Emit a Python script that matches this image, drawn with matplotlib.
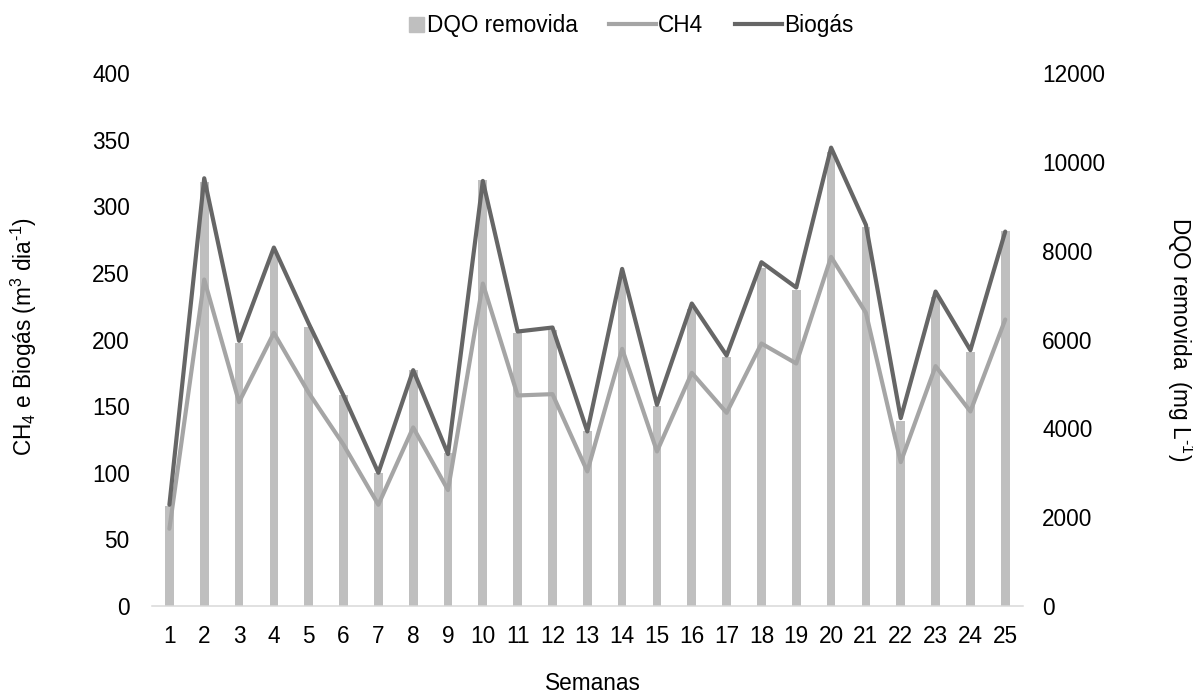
import matplotlib
matplotlib.use("Agg")
import matplotlib.pyplot as plt
import matplotlib.patches as mpatches
from matplotlib.lines import Line2D
from matplotlib.legend_handler import HandlerPatch

plt.rcParams['font.family'] = ['Liberation Sans', 'DejaVu Sans']
plt.rcParams['mathtext.fontset'] = 'custom'
plt.rcParams['mathtext.rm'] = 'Liberation Sans'
plt.rcParams['mathtext.it'] = 'Liberation Sans:italic'

# Weekly data
semanas = list(range(1, 26))
dqo_removida = [2250, 9550, 5930, 7940, 6280, 4750, 2990, 5310, 3440, 9590,
                6140, 6220, 3930, 7400, 4500, 6690, 5600, 7610, 7120, 10230,
                8530, 4170, 6950, 5730, 8450]
ch4 = [58, 245, 153, 205, 160, 121, 76, 134, 87, 242,
       158, 159, 101, 193, 116, 175, 145, 197, 182, 262,
       220, 108, 180, 146, 215]
biogas = [76, 321, 199, 269, 212, 158, 100, 177, 114, 319,
          206, 209, 131, 253, 151, 227, 188, 258, 239, 344,
          286, 141, 236, 192, 281]

left_ticks = [0, 50, 100, 150, 200, 250, 300, 350, 400]
right_ticks = [0, 2000, 4000, 6000, 8000, 10000, 12000]

C_BAR = '#bfbfbf'
C_CH4 = '#a5a5a5'
C_BIO = '#666666'
FS = 16.3

fig = plt.figure(figsize=(11.93, 6.96), dpi=100)
ax = fig.add_axes([0.1274, 0.1293, 0.7298, 0.7658])
ax2 = ax.twinx()

# Bars (right axis) behind the lines (left axis)
ax.set_zorder(ax2.get_zorder() + 1)
ax.patch.set_visible(False)

ax2.bar(semanas, dqo_removida, width=0.25, color=C_BAR, zorder=1)
ax.plot(semanas, ch4, color=C_CH4, lw=3.0, solid_joinstyle='round',
        solid_capstyle='round')
ax.plot(semanas, biogas, color=C_BIO, lw=3.0, solid_joinstyle='round',
        solid_capstyle='round')

ax.set_xlim(0.5, 25.5)
ax.set_ylim(0, 400)
ax2.set_ylim(0, 12000)
ax.set_xticks(semanas)
ax.set_xticklabels([str(s) for s in semanas])
ax.set_yticks(left_ticks)
ax2.set_yticks(right_ticks)

for a in (ax, ax2):
    for side in ('top', 'left', 'right', 'bottom'):
        a.spines[side].set_visible(False)
ax.spines['bottom'].set_visible(True)
ax.spines['bottom'].set_color('#d9d9d9')
ax.spines['bottom'].set_linewidth(1.1)

ax.tick_params(axis='y', length=0, pad=16, labelsize=FS)
ax.tick_params(axis='x', length=0, pad=14, labelsize=FS)
ax2.tick_params(axis='y', length=0, pad=14, labelsize=FS)

ax.set_xlabel('Semanas', fontsize=FS, va='center')
ax.xaxis.set_label_coords(0.5064, -0.1445)
ax.set_ylabel(r'CH$_4$ e Biogás (m$^3$ dia$^{\text{-1}}$)', fontsize=FS,
              va='center')
ax.yaxis.set_label_coords(-0.147, 0.505)
ax2.set_ylabel(r'DQO removida  (mg L$^{\text{-1}}$)', fontsize=FS,
               rotation=-90, va='center', ha='center')
ax2.yaxis.set_label_coords(1.181, 0.5)


def square_patch(legend, orig_handle, xdescent, ydescent, width, height, fontsize):
    s = height * 0.95
    return mpatches.Rectangle((width - xdescent - s, -ydescent + (height - s) / 2),
                              s, s)


handles = [mpatches.Patch(color=C_BAR, label='DQO removida'),
           Line2D([], [], color=C_CH4, lw=3.0, label='CH4'),
           Line2D([], [], color=C_BIO, lw=3.0, label='Biogás')]
fig.legend(handles=handles, loc='center', bbox_to_anchor=(0.516, 0.963),
           ncol=3, frameon=False, fontsize=FS, handlelength=2.05,
           handletextpad=0.12, columnspacing=1.4,
           handler_map={mpatches.Patch: HandlerPatch(patch_func=square_patch)})

fig.savefig('out.png', dpi=100)
